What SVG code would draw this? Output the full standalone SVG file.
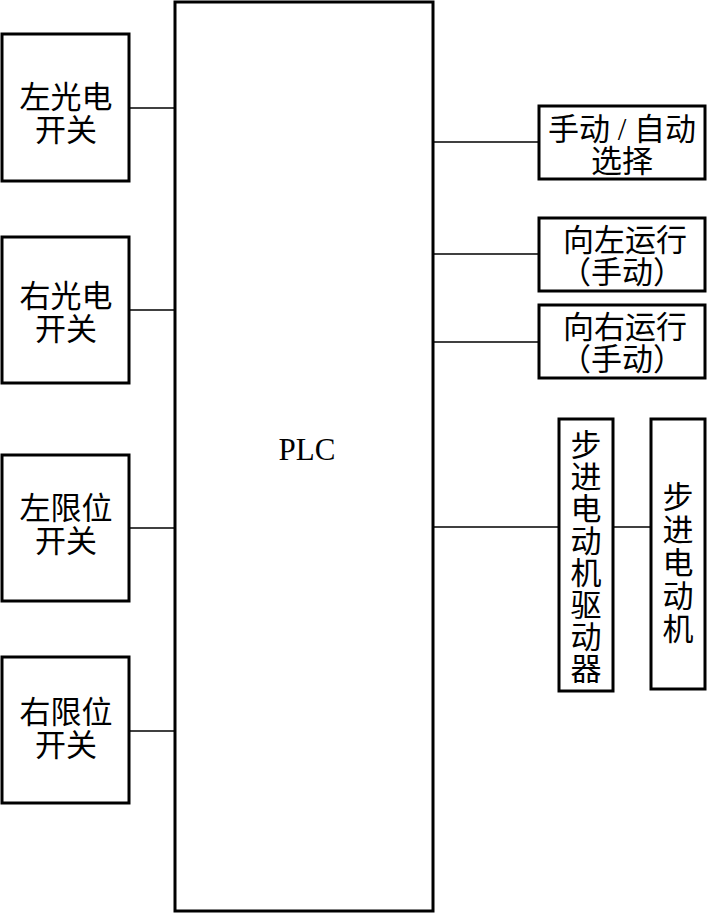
<svg xmlns="http://www.w3.org/2000/svg" width="707" height="913" viewBox="0 0 707 913">
<style>
.b{fill:#fff;stroke:#000;stroke-width:3}
.c{stroke:#000;stroke-width:1.5;fill:none}
text{font-family:"Liberation Serif","Noto Sans CJK SC",serif;font-size:31px;fill:#000;text-anchor:middle}
</style>
<rect width="707" height="913" fill="#fff"/>
<g id="connectors">
<line class="c" x1="130" y1="108" x2="175" y2="108"/>
<line class="c" x1="130" y1="310" x2="175" y2="310"/>
<line class="c" x1="130" y1="528" x2="175" y2="528"/>
<line class="c" x1="130" y1="731" x2="175" y2="731"/>
<line class="c" x1="433" y1="142" x2="539" y2="142"/>
<line class="c" x1="433" y1="254" x2="539" y2="254"/>
<line class="c" x1="433" y1="342" x2="539" y2="342"/>
<line class="c" x1="433" y1="527" x2="559" y2="527"/>
<line class="c" x1="613" y1="527" x2="651" y2="527"/>
</g>
<g id="plc"><rect class="b" x="175" y="2" width="258" height="909"/><text x="307" y="460" font-size="27">PLC</text></g>
<g id="n1"><rect class="b" x="2" y="34" width="127" height="147"/><text x="66" y="108">左光电</text><text x="66" y="141">开关</text></g>
<g id="n2"><rect class="b" x="2" y="237" width="127" height="146"/><text x="66" y="307">右光电</text><text x="66" y="340">开关</text></g>
<g id="n3"><rect class="b" x="2" y="455" width="127" height="146"/><text x="66" y="519">左限位</text><text x="66" y="552">开关</text></g>
<g id="n4"><rect class="b" x="2" y="657" width="127" height="146"/><text x="66" y="723">右限位</text><text x="66" y="756">开关</text></g>
<g id="n5"><rect class="b" x="539" y="106" width="166" height="73"/><text x="622" y="140">手动 / 自动</text><text x="622" y="172">选择</text></g>
<g id="n6"><rect class="b" x="539" y="218" width="166" height="73"/><text x="625" y="251">向左运行</text><text x="622" y="283">（手动）</text></g>
<g id="n7"><rect class="b" x="539" y="305" width="166" height="73"/><text x="625" y="338">向右运行</text><text x="622" y="370">（手动）</text></g>
<g id="n8"><rect class="b" x="559" y="419" width="54" height="272"/>
<text x="586" y="456">步</text><text x="586" y="488">进</text><text x="586" y="520">电</text><text x="586" y="552">动</text><text x="586" y="584">机</text><text x="586" y="616">驱</text><text x="586" y="648">动</text><text x="586" y="680">器</text></g>
<g id="n9"><rect class="b" x="651" y="419" width="54" height="270"/>
<text x="678" y="508">步</text><text x="678" y="541">进</text><text x="678" y="574">电</text><text x="678" y="607">动</text><text x="678" y="640">机</text></g>
</svg>
